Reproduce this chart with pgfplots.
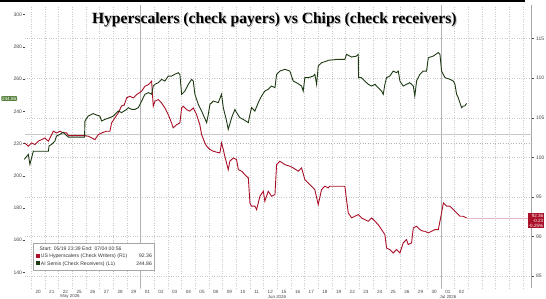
\documentclass[border=0pt]{standalone}
\usepackage{pgfplots}
\pgfplotsset{compat=1.18}
\usepackage{fontspec}
\setmainfont{Liberation Sans}
\newfontfamily\titlefont{Liberation Serif}
\definecolor{grn}{RGB}{30,58,20}
\definecolor{rd}{RGB}{170,16,40}
\definecolor{gridc}{RGB}{200,200,200}
\definecolor{tickc}{RGB}{70,70,70}
\begin{document}
\begin{tikzpicture}[x=1pt,y=1pt]
\fill[white] (0,0) rectangle (546,299);
% right axis : US Hyperscalers
\begin{axis}[name=ax1, at={(18,14)}, anchor=south west, scale only axis, width=507pt, height=283pt,
  xmin=-0.99, xmax=36.13, ymin=83.52, ymax=119.26,
  axis line style={draw=none},
  ytick pos=right, yticklabel pos=right, xtick pos=bottom,
  xtick={0,...,31},
  xticklabels={20,21,22,25,26,27,28,29,01,02,03,04,05,08,09,10,11,12,15,16,17,18,19,22,23,24,25,26,29,30,01,02},
  x tick label style={font=\fontsize{4.6}{5}\selectfont, text=tickc, inner sep=0pt, anchor=north, yshift=-0.6pt},
  major x tick style={draw=none},
  minor xtick={-0.5,0.5,...,35.5},
  minor x tick style={draw=none},
  xminorgrids=true,
  minor x grid style={gridc, dotted, line width=0.4pt},
  ytick={85,90,...,115},
  ymajorgrids=true,
  major y grid style={gridc, dotted, line width=0.4pt},
  y tick label style={font=\fontsize{5}{6}\selectfont, text=tickc, xshift=-1pt},
  /pgf/number format/assume math mode=true,
  tick align=outside, major tick length=2pt,
  major y tick style={tickc, line width=0.5pt},
  clip=false
]
\draw[gray!70, line width=0.4pt] (rel axis cs:1,0) -- (rel axis cs:1,1);
\draw[gray!60, line width=0.5pt] (axis cs:7.5,83.52) -- (axis cs:7.5,119.26);
\draw[gray!60, line width=0.5pt] (axis cs:29.5,83.52) -- (axis cs:29.5,119.26);
\draw[gray!45, line width=0.6pt] (axis cs:-0.99,102.88) -- (axis cs:36.13,102.88);
\draw[gray!60, dotted, line width=0.6pt] (axis cs:-0.99,101.74) -- (axis cs:36.13,101.74);
\draw[rd!30, line width=0.8pt] (axis cs:31.37,92.36) -- (axis cs:36.13,92.36);
\addplot[rd, line width=0.9pt, mark=none] table {
-1.01 101.83
-0.84 101.62
-0.72 101.41
-0.48 101.83
-0.23 101.62
0.01 102.05
0.26 102.25
0.50 102.46
0.75 102.05
0.99 102.88
1.11 103.31
1.35 103.09
1.60 103.31
1.84 103.09
2.09 103.09
2.21 102.75
3.43 102.75
3.67 102.68
3.92 102.46
4.16 102.25
4.41 102.88
4.65 103.09
5.01 103.31
5.26 103.31
5.38 104.36
5.62 104.99
5.87 105.62
6.11 106.5
6.30 106.6
6.48 107.51
6.72 107.73
6.97 107.51
7.21 107.93
7.58 108.36
7.82 108.99
8.07 109.19
8.31 109.62
8.43 106.47
8.55 107.10
8.80 107.30
9.04 106.88
9.28 106.25
9.53 105.41
9.77 104.36
9.89 103.73
10.14 104.14
10.38 104.36
10.51 106.25
10.63 106.47
10.87 106.04
11.11 105.84
11.36 106.25
11.60 105.41
11.84 104.14
11.97 102.88
12.21 101.83
12.34 101.41
12.58 100.99
12.83 100.78
13.07 100.66
13.31 100.57
13.43 101.83
13.56 100.99
13.67 100.15
13.92 98.46
14.04 99.52
14.29 99.94
14.53 99.72
14.66 98.46
14.90 98.26
15.14 97.83
15.39 97.41
15.51 94.25
15.63 93.84
15.87 93.84
16.00 93.41
16.24 95.10
16.49 95.73
16.60 94.47
16.85 95.73
17.09 95.10
17.34 95.30
17.46 99.09
17.70 99.52
18.07 99.09
18.43 98.89
18.68 98.67
19.05 98.26
19.29 98.67
19.53 97.20
19.78 96.78
20.02 96.36
20.26 95.93
20.51 94.04
20.75 95.93
20.99 96.36
21.24 96.15
21.36 96.36
21.61 96.36
22.46 96.36
22.58 94.67
22.71 92.99
22.95 92.36
23.19 92.57
23.44 92.78
23.68 92.36
23.92 92.14
24.17 91.94
24.41 92.36
24.66 91.94
24.90 91.51
25.15 90.88
25.39 90.25
25.51 88.57
25.75 88.36
26.00 87.94
26.24 88.36
26.49 87.94
26.73 89.20
26.97 89.62
27.10 88.99
27.34 89.20
27.47 91.10
27.71 91.31
27.95 90.88
28.20 90.68
28.32 90.68
28.57 90.46
28.81 90.68
29.05 90.88
29.30 90.88
29.54 92.99
29.67 94.25
29.91 93.84
30.15 93.84
30.40 93.41
30.64 92.99
30.88 92.57
31.12 92.57
31.37 92.36
};
\end{axis}
% left axis : AI Semis
\begin{axis}[at={(18,6)}, anchor=south west, scale only axis, width=507pt, height=283pt,
  xmin=-0.99, xmax=36.13, ymin=129.5, ymax=305.2,
  axis line style={draw=none},
  ytick pos=left, yticklabel pos=left,
  xtick=\empty,
  ytick={140,160,...,300},
  y tick label style={font=\fontsize{5}{6}\selectfont, text=tickc, inner sep=0.5pt},
  /pgf/number format/assume math mode=true,
  tick align=outside, major tick length=2pt,
  major y tick style={tickc, line width=0.5pt},
  clip=false
]
\addplot[grn, line width=0.9pt, mark=none] table {
-1.01 210.2
-0.72 213.3
-0.60 207.1
-0.35 215.3
-0.26 215.2
0.75 215.2
0.80 218.5
0.99 219.5
1.23 221.6
1.35 224.7
1.60 225.7
1.84 227.0
2.21 224.0
3.40 224.0
3.43 234.0
3.67 237.1
4.04 238.6
4.28 237.7
4.52 237.1
4.65 234.0
4.89 235.0
5.26 236.1
5.51 237.1
5.87 240.2
6.11 239.2
6.48 241.2
6.60 242.3
6.85 241.2
7.09 241.2
7.34 242.3
7.58 246.4
7.82 250.6
8.07 251.6
8.31 250.6
8.43 255.7
8.55 256.8
8.80 257.8
9.04 259.9
9.28 258.8
9.53 261.9
9.77 261.9
10.01 263.0
10.26 264.0
10.38 263.0
10.51 250.6
10.75 252.6
11.00 256.8
11.24 259.9
11.36 258.8
11.48 250.6
11.73 244.3
11.97 240.2
12.34 233.0
12.46 238.1
12.58 244.3
12.83 246.4
13.19 245.4
13.43 250.6
13.56 242.3
13.80 234.0
13.92 228.8
14.17 236.1
14.41 241.2
14.53 239.2
14.77 236.1
15.02 235.0
15.39 233.0
15.51 238.1
15.63 242.3
15.87 240.2
16.12 245.4
16.36 249.5
16.60 252.6
16.85 253.7
17.09 255.7
17.34 254.7
17.46 263.0
17.70 265.0
18.07 266.1
18.43 265.0
18.68 258.8
18.92 257.8
19.29 255.7
19.41 252.6
19.53 260.9
19.78 260.9
20.14 261.9
20.26 263.0
20.39 256.8
20.51 268.1
20.75 270.2
21.12 271.2
21.24 271.7
21.98 272.3
22.46 272.3
22.58 275.4
22.95 273.7
23.31 274.3
23.44 275.4
23.46 260.9
23.68 260.9
23.92 258.8
24.17 256.8
24.41 255.7
24.66 256.8
24.90 254.7
25.15 252.6
25.27 250.6
25.39 256.8
25.51 260.9
25.75 261.9
26.00 265.0
26.24 264.0
26.37 265.0
26.49 258.8
26.73 255.7
26.97 256.8
27.21 257.8
27.47 255.7
27.58 249.5
27.71 258.8
27.95 263.0
28.20 265.0
28.44 265.0
28.57 273.3
28.93 274.3
29.30 276.5
29.42 275.4
29.54 265.0
29.79 260.9
30.15 259.9
30.40 258.8
30.52 256.8
30.64 250.6
30.76 248.5
30.88 245.4
31.00 242.3
31.12 243.3
31.24 243.3
31.37 244.9
};
\end{axis}
% top rule
\fill[black] (0,297.3) rectangle (525,299);
% title with shadow
\node[font=\titlefont\bfseries\fontsize{15.6}{16}\selectfont, text=gray!55] at (275.3,278.2) {Hyperscalers (check payers) vs Chips (check receivers)};
\node[font=\titlefont\bfseries\fontsize{15.6}{16}\selectfont, text=black] at (274.3,279.2) {Hyperscalers (check payers) vs Chips (check receivers)};
% month labels
\node[font=\fontsize{4.4}{5}\selectfont, text=tickc, inner sep=0pt, anchor=south] at (70,0.2) {May 2026};
\node[font=\fontsize{4.4}{5}\selectfont, text=tickc, inner sep=0pt, anchor=south] at (277,0.2) {Jun 2026};
\node[font=\fontsize{4.4}{5}\selectfont, text=tickc, inner sep=0pt, anchor=south] at (448,0.2) {Jul 2026};
% last value tags
\node[fill={rgb,255:red,88;green,128;blue,62}, text=white, font=\fontsize{4.6}{5}\selectfont, inner sep=0.8pt, rounded corners=0.8pt, anchor=east] at (17.2,200.5) {244.86};
\node[fill=rd, text=white, font=\fontsize{4.6}{5}\selectfont, inner sep=1pt, align=right, anchor=west] at (527.5,78.5) {92.36\\-0.23\\-0.25\%};
% legend
\node[draw=gray!70, fill=white, anchor=north west, inner sep=2.5pt, font=\fontsize{5.1}{7.2}\selectfont, text=black!80] at (33,56) {%
\begin{tabular}{@{}l@{\hspace{9pt}}r@{}}
\multicolumn{2}{@{}l@{}}{\hspace{4pt}Start: 05/19 23:39 End: 07/04 00:56}\\
\textcolor{rd}{\rule{3.8pt}{3.8pt}} US Hyperscalers (Check Writers) (R1) & 92.36\\
\textcolor{grn}{\rule{3.8pt}{3.8pt}} AI Semis (Check Receivers) (L1) & 244.86
\end{tabular}};
\pgfresetboundingbox
\useasboundingbox (0,0) rectangle (546,299);
\end{tikzpicture}
\end{document}
